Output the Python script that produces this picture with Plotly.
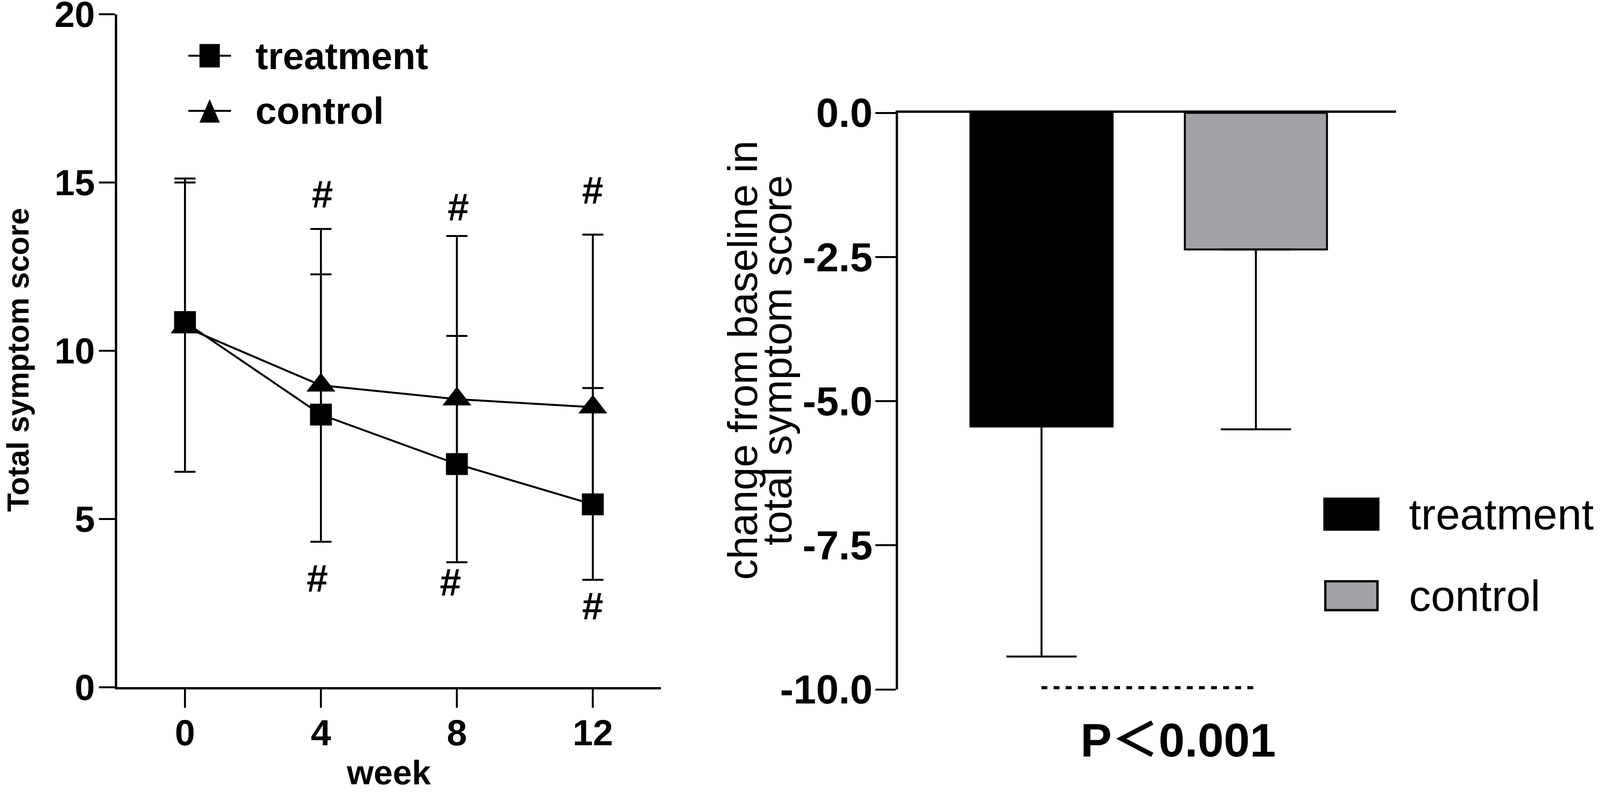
import plotly.graph_objects as go

# reference picture size (positions below are read in these pixels)
W, H = 4724, 2039
# the browser window is only 4096 px wide, so the figure is drawn at that width
FIG_W = 4096

# left panel: total symptom score by week
weeks = [0, 4, 8, 12]
treat_mean = [10.85, 8.1, 6.63, 5.43]
treat_sd = [4.27, 4.17, 3.81, 3.46]
ctrl_mean = [10.7, 8.97, 8.56, 8.32]
ctrl_sd = [4.3, 4.65, 4.85, 5.13]

# "#" significance marks
hash_x = [4.05, 3.89, 8.04, 7.81, 12.0, 12.0]
hash_y = [14.66, 3.24, 14.27, 3.12, 14.77, 2.41]

# right panel: change from baseline
groups = ["treatment", "control"]
change_mean = [-5.44, -2.37]
change_sd = [3.99, 3.12]
bar_colors = ["#000000", "#a2a1a6"]

left_yticks = [0, 5, 10, 15, 20]
right_yticks = [0, -2.5, -5, -7.5, -10]
right_yticktext = ["0.0", "-2.5", "-5.0", "-7.5", "-10.0"]

FONT = "Liberation Sans, Arial, Noto Sans CJK SC"


def fx(X):
    return X / W


def fy(Y):
    return 1 - Y / H


fig = go.Figure()

fig.add_trace(go.Scatter(
    x=weeks, y=treat_mean, mode="lines+markers", name="treatment",
    line=dict(color="black", width=5),
    marker=dict(symbol="square", size=56, color="black"),
    error_y=dict(type="data", symmetric=False, array=treat_sd,
                 arrayminus=[0] * len(treat_sd), width=27, thickness=5,
                 color="black"),
    xaxis="x", yaxis="y", showlegend=False))

fig.add_trace(go.Scatter(
    x=weeks, y=ctrl_mean, mode="lines+markers", name="control",
    line=dict(color="black", width=5),
    marker=dict(symbol="triangle-up", size=64, color="black"),
    error_y=dict(type="data", array=ctrl_sd, width=27, thickness=5,
                 color="black"),
    xaxis="x", yaxis="y", showlegend=False))

fig.add_trace(go.Bar(
    x=groups, y=change_mean, width=0.663,
    marker=dict(color=bar_colors, line=dict(color="black", width=5)),
    error_y=dict(type="data", symmetric=False, array=[0, 0],
                 arrayminus=change_sd, width=90, thickness=5, color="black"),
    xaxis="x2", yaxis="y2", showlegend=False))

tick_bold = dict(family=FONT, size=93, color="black", weight="bold")

fig.update_layout(
    template="none",
    width=FIG_W, height=H,
    margin=dict(l=0, r=0, t=0, b=0, pad=0, autoexpand=False),
    paper_bgcolor="white", plot_bgcolor="white",
    font=dict(family=FONT, color="black"),
    xaxis=dict(domain=[fx(345.5), fx(1951)], range=[-2, 14],
               tickvals=weeks, ticks="outside", ticklen=47, tickwidth=5,
               tickcolor="black", showline=True, linewidth=6,
               linecolor="black", showgrid=False, zeroline=False,
               tickfont=tick_bold, ticklabelstandoff=-16, anchor="y",
               automargin=False, ticklabeloverflow="allow"),
    yaxis=dict(domain=[fy(1760), fy(36.7)], range=[0, 20],
               tickvals=left_yticks, ticks="outside", ticklen=41,
               tickwidth=5, tickcolor="black", showline=True, linewidth=6,
               linecolor="black", showgrid=False, zeroline=False,
               tickfont=tick_bold, ticklabelstandoff=-9, anchor="x",
               automargin=False, ticklabeloverflow="allow"),
    xaxis2=dict(domain=[fx(2651), fx(4122)], range=[-0.67, 1.654],
                type="category", side="top", showticklabels=False,
                ticks="", showline=True, linewidth=6, linecolor="black",
                showgrid=False, zeroline=False, anchor="y2",
                automargin=False),
    yaxis2=dict(domain=[fy(1766), fy(289)], range=[-10, 0],
                tickvals=right_yticks, ticktext=right_yticktext,
                ticks="outside", ticklen=52, tickwidth=5, tickcolor="black",
                showline=True, linewidth=6, linecolor="black",
                showgrid=False, zeroline=False,
                tickfont=dict(family=FONT, size=104, color="black",
                              weight="bold"),
                ticklabelstandoff=-14, anchor="x2", automargin=False,
                ticklabeloverflow="allow"),
)


def label(X, Y, text, size, bold=False, angle=0, xanchor="center"):
    return dict(x=fx(X), y=fy(Y), xref="paper", yref="paper", text=text,
                textangle=angle, showarrow=False, xanchor=xanchor,
                yanchor="middle",
                font=dict(family=FONT, size=size, color="black",
                          weight="bold" if bold else "normal"))


ann = []
for hx, hy in zip(hash_x, hash_y):
    ann.append(dict(x=hx, y=hy, xref="x", yref="y", text="#",
                    showarrow=False, xanchor="center", yanchor="middle",
                    font=dict(family=FONT, size=98, color="black",
                              weight="bold")))

# axis titles
ann.append(label(1148, 1978, "week", 88, bold=True))
ann.append(label(0, 922, "Total symptom score", 78, bold=True, angle=-90,
                 xanchor="left"))
ann.append(label(2192, 923, "change from baseline in", 106, angle=-90))
ann.append(label(2294, 923, "total symptom score", 106, angle=-90))

# p-value
ann.append(label(3478, 1896, "P＜0.001", 120, bold=True))

# left legend text
ann.append(label(752, 143, "treatment", 97, bold=True, xanchor="left"))
ann.append(label(752, 284, "control", 97, bold=True, xanchor="left"))

# right legend text
ann.append(label(4158, 1317, "treatment", 112, xanchor="left"))
ann.append(label(4158, 1526, "control", 112, xanchor="left"))

fig.update_layout(annotations=ann)

shapes = []
# left legend symbols
for yc in [142.7, 284]:
    shapes.append(dict(type="line", xref="paper", yref="paper",
                       x0=fx(556), x1=fx(682), y0=fy(yc), y1=fy(yc),
                       line=dict(color="black", width=5)))
shapes.append(dict(type="rect", xref="paper", yref="paper",
                   x0=fx(589), x1=fx(649), y0=fy(112.7), y1=fy(172.7),
                   fillcolor="black", line=dict(width=0)))
shapes.append(dict(type="path", xref="paper", yref="paper",
                   path="M {} {} L {} {} L {} {} Z".format(
                       fx(619), fy(254), fx(589), fy(314), fx(649), fy(314)),
                   fillcolor="black", line=dict(width=0)))
# right legend swatches
shapes.append(dict(type="rect", xref="paper", yref="paper",
                   x0=fx(3910), x1=fx(4070), y0=fy(1277), y1=fy(1357),
                   fillcolor=bar_colors[0], line=dict(color="black", width=5)))
shapes.append(dict(type="rect", xref="paper", yref="paper",
                   x0=fx(3913), x1=fx(4067), y0=fy(1489), y1=fy(1563),
                   fillcolor=bar_colors[1], line=dict(color="black", width=6)))
# dashed comparison line
shapes.append(dict(type="line", xref="x2", yref="y2",
                   x0=groups[0], x1=groups[1], y0=-9.97, y1=-9.97,
                   line=dict(color="black", width=8, dash="15px,16px")))

fig.update_layout(shapes=shapes)

fig.write_html("out.html", config={"displayModeBar": False},
               post_script="document.body.style.margin = '0px';")
